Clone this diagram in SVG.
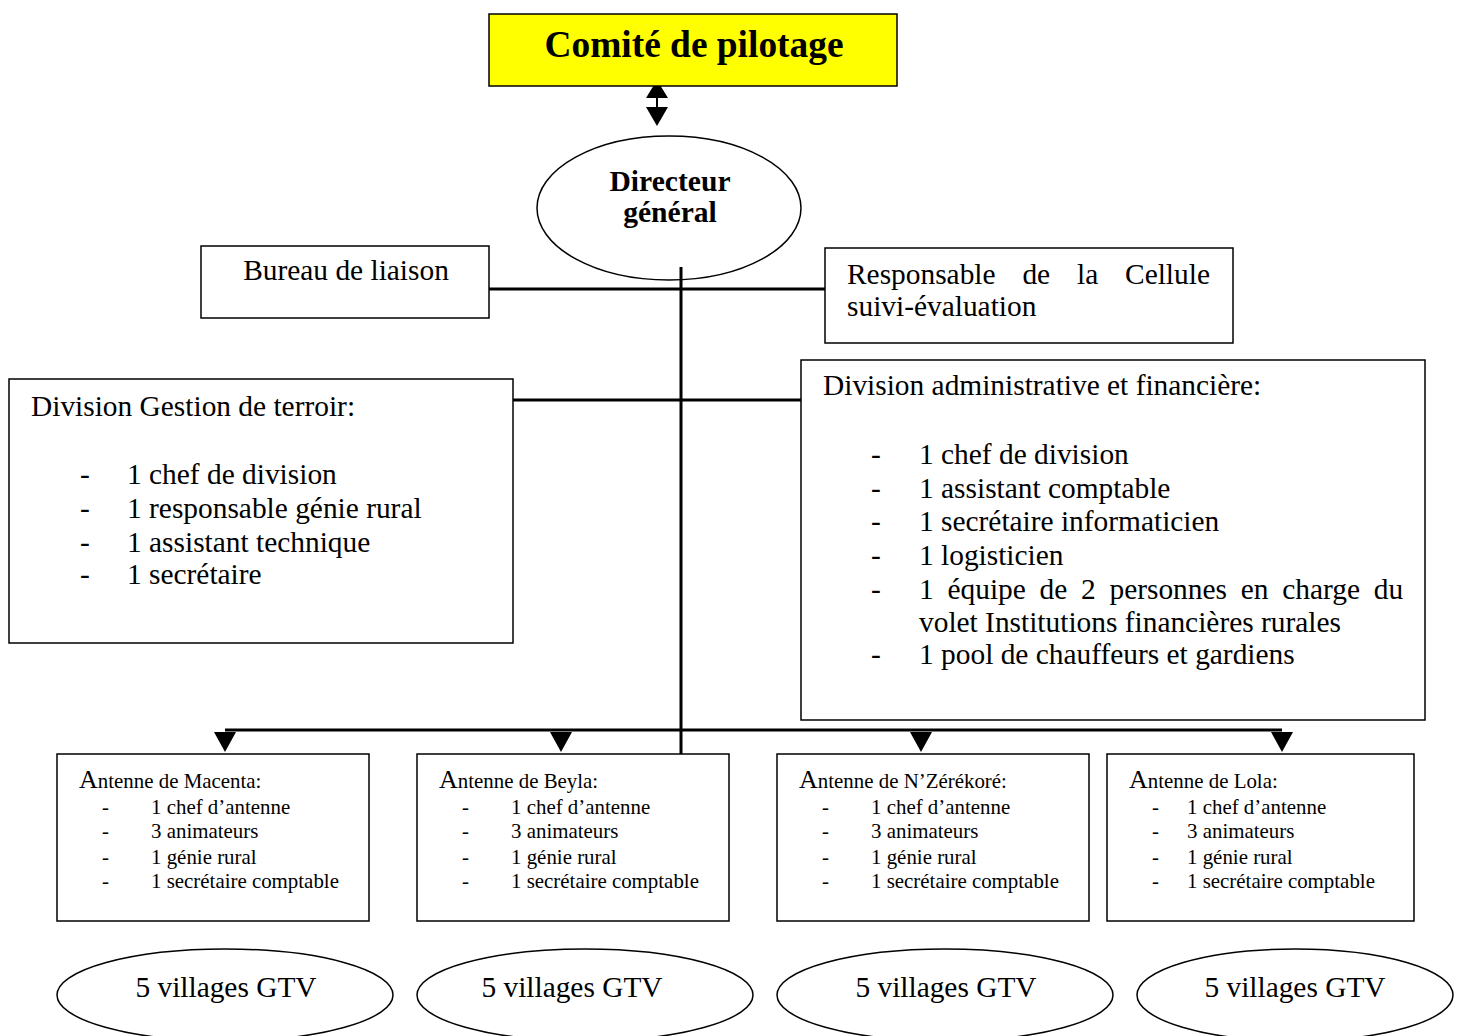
<svg xmlns="http://www.w3.org/2000/svg" width="1460" height="1036" viewBox="0 0 1460 1036">
<style>
  .box{fill:#fff;stroke:#000;stroke-width:1.5}
  .t{font-family:"Liberation Serif","Times New Roman",serif;fill:#000}
  .big{font-size:29.4px}
  .sm{font-size:20.9px}
  .cap{font-size:26px}
  .b{font-weight:bold}
  .conn{stroke:#000;stroke-width:3;fill:none}
  .ah{fill:#000}
</style>
<rect width="1460" height="1036" fill="#fff"/>
<g id="connectors">
  <line class="conn" x1="681" y1="267" x2="681" y2="773"/>
  <line class="conn" x1="489" y1="289" x2="825" y2="289"/>
  <line class="conn" x1="513" y1="400" x2="826" y2="400"/>
  <line class="conn" x1="225" y1="730" x2="1282" y2="730"/>
  <line stroke="#000" stroke-width="2" x1="657" y1="95" x2="657" y2="110"/>
  <polygon class="ah" points="657,80 668,98 646,98"/>
  <polygon class="ah" points="646,107 668,107 657,126"/>
  <polygon class="ah" points="214,732 236,732 225,752"/>
  <polygon class="ah" points="550,732 572,732 561,752"/>
  <polygon class="ah" points="910,732 932,732 921,752"/>
  <polygon class="ah" points="1271,732 1293,732 1282,752"/>
</g>
<g id="comite">
  <rect x="489" y="14" width="408" height="72" fill="#ffff00" stroke="#000" stroke-width="1.5"/>
  <text class="t b" x="694" y="57" font-size="37.4" text-anchor="middle">Comité de pilotage</text>
</g>
<g id="directeur">
  <ellipse cx="669" cy="208" rx="132" ry="72" fill="none" stroke="#000" stroke-width="1.5"/>
  <text class="t b" font-size="29.6" x="670" y="191" text-anchor="middle">Directeur</text>
  <text class="t b" font-size="29.6" x="670" y="222" text-anchor="middle">général</text>
</g>
<g id="bureau">
  <rect class="box" x="201" y="246" width="288" height="72"/>
  <text class="t big" x="346" y="280" text-anchor="middle">Bureau de liaison</text>
</g>
<g id="cellule">
  <rect class="box" x="825" y="248" width="408" height="95"/>
  <text class="t big" x="847" y="284" word-spacing="19.5">Responsable de la Cellule</text>
  <text class="t big" x="847" y="316">suivi-évaluation</text>
</g>
<g id="div-terroir">
  <rect class="box" x="9" y="379" width="504" height="264"/>
  <text class="t big" x="31" y="416">Division Gestion de terroir:</text>
  <text class="t big" x="80" y="484">-</text><text class="t big" x="127" y="484">1 chef de division</text>
  <text class="t big" x="80" y="518">-</text><text class="t big" x="127" y="518">1 responsable génie rural</text>
  <text class="t big" x="80" y="552">-</text><text class="t big" x="127" y="552">1 assistant technique</text>
  <text class="t big" x="80" y="584">-</text><text class="t big" x="127" y="584">1 secrétaire</text>
</g>
<g id="div-admin">
  <rect class="box" x="801" y="360" width="624" height="360"/>
  <text class="t big" x="823" y="395">Division administrative et financière:</text>
  <text class="t big" x="871" y="464">-</text><text class="t big" x="919" y="464">1 chef de division</text>
  <text class="t big" x="871" y="498">-</text><text class="t big" x="919" y="498">1 assistant comptable</text>
  <text class="t big" x="871" y="531">-</text><text class="t big" x="919" y="531">1 secrétaire informaticien</text>
  <text class="t big" x="871" y="565">-</text><text class="t big" x="919" y="565">1 logisticien</text>
  <text class="t big" x="871" y="599">-</text><text class="t big" x="919" y="599" word-spacing="6.4">1 équipe de 2 personnes en charge du</text>
  <text class="t big" x="919" y="632">volet Institutions financières rurales</text>
  <text class="t big" x="871" y="664">-</text><text class="t big" x="919" y="664">1 pool de chauffeurs et gardiens</text>
</g>
<g id="antenne-macenta">
  <rect class="box" x="57" y="754" width="312" height="167"/>
  <text class="t sm" x="79" y="788"><tspan class="cap">A</tspan>ntenne de Macenta:</text>
  <text class="t sm" x="102" y="814">-</text><text class="t sm" x="151" y="814">1 chef d’antenne</text>
  <text class="t sm" x="102" y="838">-</text><text class="t sm" x="151" y="838">3 animateurs</text>
  <text class="t sm" x="102" y="864">-</text><text class="t sm" x="151" y="864">1 génie rural</text>
  <text class="t sm" x="102" y="888">-</text><text class="t sm" x="151" y="888">1 secrétaire comptable</text>
</g>
<g id="antenne-beyla">
  <rect class="box" x="417" y="754" width="312" height="167"/>
  <text class="t sm" x="439" y="788"><tspan class="cap">A</tspan>ntenne de Beyla:</text>
  <text class="t sm" x="462" y="814">-</text><text class="t sm" x="511" y="814">1 chef d’antenne</text>
  <text class="t sm" x="462" y="838">-</text><text class="t sm" x="511" y="838">3 animateurs</text>
  <text class="t sm" x="462" y="864">-</text><text class="t sm" x="511" y="864">1 génie rural</text>
  <text class="t sm" x="462" y="888">-</text><text class="t sm" x="511" y="888">1 secrétaire comptable</text>
</g>
<g id="antenne-nzerekore">
  <rect class="box" x="777" y="754" width="312" height="167"/>
  <text class="t sm" x="799" y="788"><tspan class="cap">A</tspan>ntenne de N’Zérékoré:</text>
  <text class="t sm" x="822" y="814">-</text><text class="t sm" x="871" y="814">1 chef d’antenne</text>
  <text class="t sm" x="822" y="838">-</text><text class="t sm" x="871" y="838">3 animateurs</text>
  <text class="t sm" x="822" y="864">-</text><text class="t sm" x="871" y="864">1 génie rural</text>
  <text class="t sm" x="822" y="888">-</text><text class="t sm" x="871" y="888">1 secrétaire comptable</text>
</g>
<g id="antenne-lola">
  <rect class="box" x="1107" y="754" width="307" height="167"/>
  <text class="t sm" x="1129" y="788"><tspan class="cap">A</tspan>ntenne de Lola:</text>
  <text class="t sm" x="1152" y="814">-</text><text class="t sm" x="1187" y="814">1 chef d’antenne</text>
  <text class="t sm" x="1152" y="838">-</text><text class="t sm" x="1187" y="838">3 animateurs</text>
  <text class="t sm" x="1152" y="864">-</text><text class="t sm" x="1187" y="864">1 génie rural</text>
  <text class="t sm" x="1152" y="888">-</text><text class="t sm" x="1187" y="888">1 secrétaire comptable</text>
</g>
<g id="villages-1">
  <ellipse cx="225" cy="995" rx="168" ry="46" fill="none" stroke="#000" stroke-width="1.5"/>
  <text class="t big" x="226" y="997" text-anchor="middle">5 villages GTV</text>
</g>
<g id="villages-2">
  <ellipse cx="585" cy="995" rx="168" ry="46" fill="none" stroke="#000" stroke-width="1.5"/>
  <text class="t big" x="572" y="997" text-anchor="middle">5 villages GTV</text>
</g>
<g id="villages-3">
  <ellipse cx="945" cy="995" rx="168" ry="46" fill="none" stroke="#000" stroke-width="1.5"/>
  <text class="t big" x="946" y="997" text-anchor="middle">5 villages GTV</text>
</g>
<g id="villages-4">
  <ellipse cx="1295" cy="995" rx="158" ry="46" fill="none" stroke="#000" stroke-width="1.5"/>
  <text class="t big" x="1295" y="997" text-anchor="middle">5 villages GTV</text>
</g>
</svg>
